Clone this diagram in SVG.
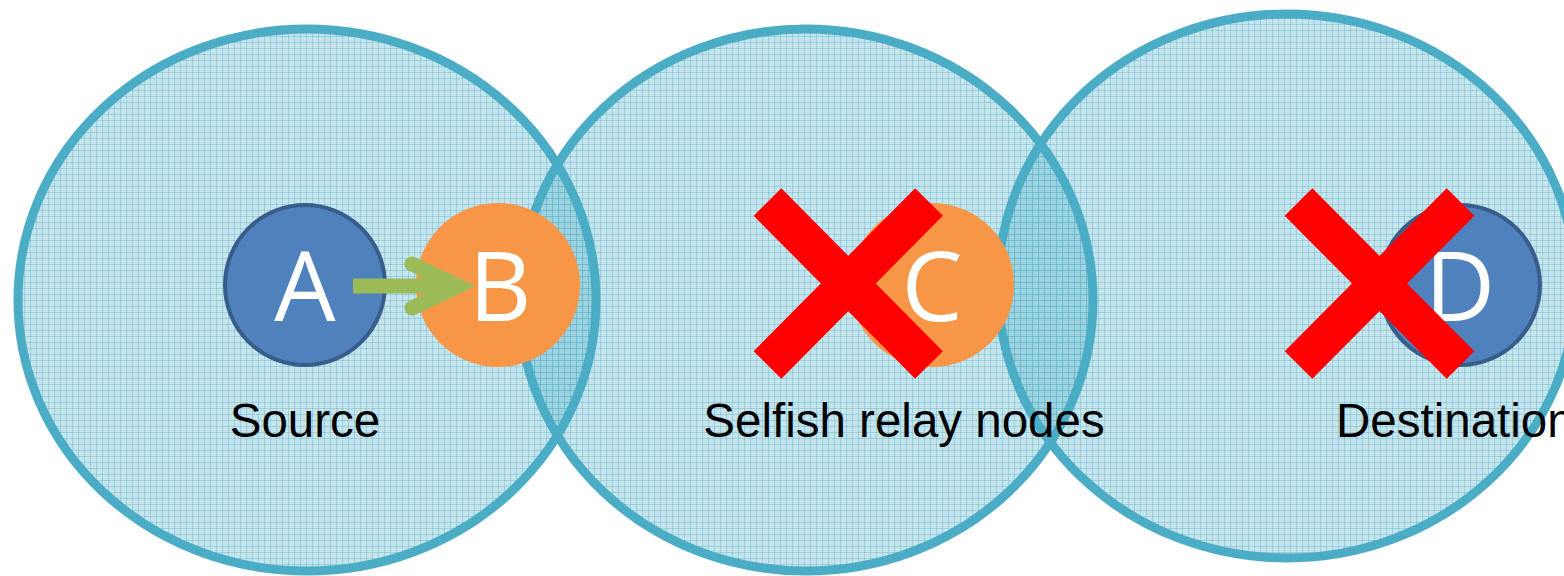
<svg xmlns="http://www.w3.org/2000/svg" width="1564" height="576" viewBox="0 0 1564 576">
  <style>
    .range { fill: url(#hatch); stroke: #4bacc6; stroke-width: 9; }
    .blue { fill: #4f81bd; stroke: #385d8a; stroke-width: 4; }
    .orange { fill: #f79646; }
    .letter { font-family: "Open Sans", "Noto Sans", sans-serif; font-size: 97px; fill: #ffffff; text-anchor: middle; }
    .label { font-family: "Liberation Sans", Arial, sans-serif; font-size: 47.5px; fill: #000000; }
    .cross { stroke: #ff0000; stroke-width: 39; stroke-linecap: butt; fill: none; }
    .arrow { stroke: #9bbb59; stroke-width: 15; fill: none; }
  </style>
  <defs>
    <pattern id="hatch" width="6" height="6" patternUnits="userSpaceOnUse">
      <rect width="6" height="6" fill="#4bacc6" fill-opacity="0.32"/>
      <path d="M0,0.5 H6 M0.5,0 V6" stroke="#4bacc6" stroke-opacity="0.35" stroke-width="1"/>
    </pattern>
  </defs>
  <rect width="1564" height="576" fill="#ffffff"/>

  <g id="range-1"><ellipse class="range" cx="307" cy="300" rx="289" ry="271"/></g>
  <g id="range-2"><ellipse class="range" cx="806" cy="300" rx="287" ry="271"/></g>
  <g id="range-3"><ellipse class="range" cx="1287" cy="286" rx="289" ry="272"/></g>

  <g id="node-A">
    <circle class="blue" cx="305" cy="285" r="80"/>
    <text class="letter" x="305" y="321">A</text>
  </g>
  <g id="node-B">
    <circle class="orange" cx="498" cy="285" r="82"/>
    <text class="letter" x="500" y="321">B</text>
  </g>
  <g id="node-C">
    <circle class="orange" cx="932" cy="285" r="82"/>
    <text class="letter" x="932" y="321">C</text>
  </g>
  <g id="node-D">
    <circle class="blue" cx="1460" cy="285" r="80"/>
    <text class="letter" x="1460" y="321">D</text>
  </g>

  <g id="connectors">
    <path class="arrow" d="M353,286 H452"/>
    <path class="arrow" d="M412,264 L458,286 L412,308" stroke-linecap="round" stroke-linejoin="miter"/>
  </g>

  <g id="cross-C">
    <path class="cross" d="M767.5,202 L929,365 M929,202 L767.5,365"/>
  </g>
  <g id="cross-D">
    <path class="cross" d="M1298.5,202 L1460.5,365 M1460.5,202 L1298.5,365"/>
  </g>

  <g id="labels">
    <text class="label" x="305" y="437" text-anchor="middle">Source</text>
    <text class="label" x="904" y="437" text-anchor="middle">Selfish relay nodes</text>
    <text class="label" x="1336" y="437">Destination</text>
  </g>
</svg>
